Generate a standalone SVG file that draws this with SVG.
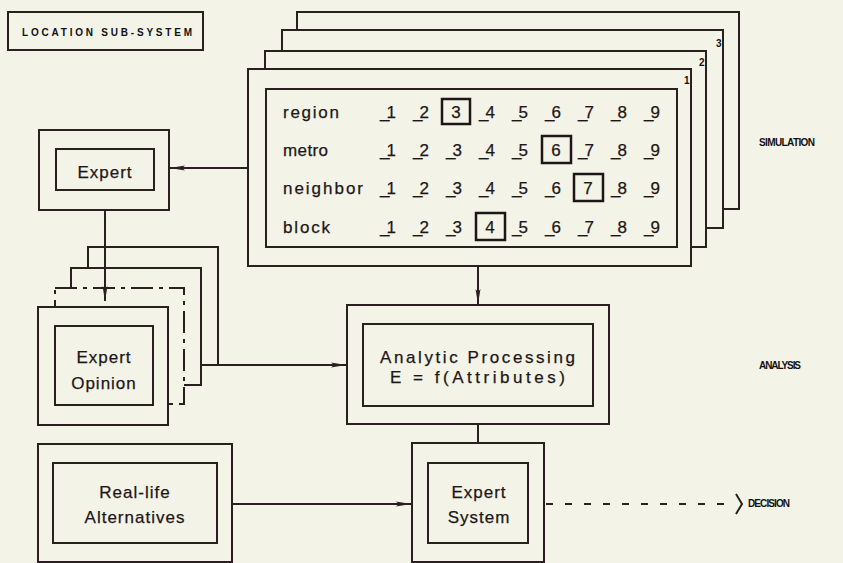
<svg xmlns="http://www.w3.org/2000/svg" width="843" height="563" viewBox="0 0 843 563">
  <style>
    .box { fill: #f3f3e8; stroke: #2a2020; stroke-width: 2; }
    .line { fill: none; stroke: #2a2020; stroke-width: 2; }
    .t { font-family: "Liberation Sans", Arial, sans-serif; fill: #1e1616; stroke: #1e1616; stroke-width: 0.25; }
    .lbl { font-size: 17px; }
    .num { font-size: 17px; letter-spacing: -3px; }
    .big { font-size: 17px; text-anchor: middle; letter-spacing: 1px; }
    .tag { font-family: "Liberation Sans", Arial, sans-serif; font-weight: bold; font-size: 10px; fill: #111; }
    .pick { fill: none; stroke: #1e1616; stroke-width: 2.5; }
  </style>
  <defs>
    <marker id="arrow" markerUnits="userSpaceOnUse" markerWidth="16" markerHeight="8" refX="15" refY="4" orient="auto">
      <path d="M0,1.5 L15,4 L0,6.5 L3,4 Z" fill="#2a2020"/>
    </marker>
  </defs>

  <rect width="843" height="563" fill="#f3f3e8"/>

  <!-- title box -->
  <g id="title">
    <rect class="box" x="8" y="12" width="195" height="38" stroke-width="1.8"/>
    <text class="tag" x="22" y="36" font-size="12" textLength="170">LOCATION SUB-SYSTEM</text>
  </g>

  <!-- stage labels -->
  <g id="stage-labels">
    <text class="tag" x="759" y="146" textLength="56">SIMULATION</text>
    <text class="tag" x="759" y="369" textLength="42">ANALYSIS</text>
    <text class="tag" x="748" y="507" textLength="42">DECISION</text>
  </g>

  <!-- simulation sheets (back to front) -->
  <g id="simulation">
    <rect class="box" x="297" y="12" width="442" height="197"/>
    <rect class="box" x="282" y="30" width="441" height="198"/>
    <rect class="box" x="265" y="51" width="441" height="196"/>
    <rect class="box" x="248" y="69" width="443" height="197"/>
    <text class="tag" x="716" y="47" font-size="11">3</text>
    <text class="tag" x="699" y="66" font-size="11">2</text>
    <text class="tag" x="684" y="84" font-size="11">1</text>
    <rect class="box" x="266" y="89" width="411" height="158"/>

    <text class="t lbl" x="283" y="118" textLength="56">region</text>
    <text class="t lbl" x="283" y="156" textLength="45">metro</text>
    <text class="t lbl" x="283" y="194" textLength="80">neighbor</text>
    <text class="t lbl" x="283" y="233" textLength="47">block</text>

    <!-- region row -->
    <g class="t num">
      <text x="380" y="118">_1</text><text x="413" y="118">_2</text>
      <text x="479" y="118">_4</text><text x="512" y="118">_5</text><text x="545" y="118">_6</text>
      <text x="578" y="118">_7</text><text x="611" y="118">_8</text><text x="644" y="118">_9</text>
    </g>
    <rect class="pick" x="442" y="99" width="28" height="25" stroke-width="3"/>
    <text class="t lbl" x="456" y="118" text-anchor="middle">3</text>

    <!-- metro row -->
    <g class="t num">
      <text x="380" y="156">_1</text><text x="413" y="156">_2</text><text x="446" y="156">_3</text>
      <text x="479" y="156">_4</text><text x="512" y="156">_5</text>
      <text x="578" y="156">_7</text><text x="611" y="156">_8</text><text x="644" y="156">_9</text>
    </g>
    <rect class="pick" x="542" y="136" width="29" height="27"/>
    <text class="t lbl" x="556" y="156" text-anchor="middle">6</text>

    <!-- neighbor row -->
    <g class="t num">
      <text x="380" y="194">_1</text><text x="413" y="194">_2</text><text x="446" y="194">_3</text>
      <text x="479" y="194">_4</text><text x="512" y="194">_5</text><text x="545" y="194">_6</text>
      <text x="611" y="194">_8</text><text x="644" y="194">_9</text>
    </g>
    <rect class="pick" x="574" y="174" width="29" height="27"/>
    <text class="t lbl" x="588" y="194" text-anchor="middle">7</text>

    <!-- block row -->
    <g class="t num">
      <text x="380" y="233">_1</text><text x="413" y="233">_2</text><text x="446" y="233">_3</text>
      <text x="512" y="233">_5</text><text x="545" y="233">_6</text>
      <text x="578" y="233">_7</text><text x="611" y="233">_8</text><text x="644" y="233">_9</text>
    </g>
    <rect class="pick" x="476" y="213" width="29" height="27"/>
    <text class="t lbl" x="490" y="233" text-anchor="middle">4</text>
  </g>

  <!-- expert -->
  <g id="expert">
    <rect class="box" x="39" y="130" width="130" height="80"/>
    <rect class="box" x="56" y="149" width="98" height="41"/>
    <text class="t big" x="105" y="178">Expert</text>
  </g>

  <!-- expert opinion stack -->
  <g id="expert-opinion">
    <rect class="box" x="88" y="247" width="130" height="118"/>
    <rect class="box" x="71" y="268" width="130" height="117"/>
    <rect class="box" x="55" y="288" width="129" height="116" stroke-dasharray="22 6 4 6"/>
    <rect class="box" x="38" y="307" width="130" height="118"/>
    <rect class="box" x="55" y="326" width="98" height="79"/>
    <text class="t big" x="104" y="363">Expert</text>
    <text class="t big" x="104" y="389">Opinion</text>
  </g>

  <!-- analytic processing -->
  <g id="analytic">
    <rect class="box" x="347" y="305" width="262" height="119"/>
    <rect class="box" x="363" y="324" width="230" height="82"/>
    <text class="t big" x="478" y="363" font-size="18" textLength="196">Analytic Processing</text>
    <text class="t big" x="478" y="383" font-size="18" textLength="176">E = f(Attributes)</text>
  </g>

  <!-- real-life alternatives -->
  <g id="alternatives">
    <rect class="box" x="38" y="444" width="194" height="118"/>
    <rect class="box" x="53" y="463" width="164" height="80"/>
    <text class="t big" x="135" y="498">Real-life</text>
    <text class="t big" x="135" y="523">Alternatives</text>
  </g>

  <!-- expert system -->
  <g id="expert-system">
    <rect class="box" x="412" y="443" width="132" height="119"/>
    <rect class="box" x="428" y="463" width="100" height="80"/>
    <text class="t big" x="479" y="498">Expert</text>
    <text class="t big" x="479" y="523">System</text>
  </g>

  <!-- connectors -->
  <g id="connectors">
    <line class="line" x1="248" y1="168" x2="170" y2="168" marker-end="url(#arrow)"/>
    <line class="line" x1="105" y1="210" x2="105" y2="301" stroke-width="1.6" marker-end="url(#arrow)"/>
    <line class="line" x1="478" y1="266" x2="478" y2="304" marker-end="url(#arrow)"/>
    <line class="line" x1="201" y1="365" x2="346" y2="365" marker-end="url(#arrow)"/>
    <line class="line" x1="478" y1="424" x2="478" y2="443" stroke-width="3"/>
    <line class="line" x1="232" y1="504" x2="411" y2="504" marker-end="url(#arrow)"/>
    <line class="line" x1="546" y1="504" x2="734" y2="504" stroke-dasharray="7 12"/>
    <polyline class="line" points="736,494 742,504 736,514" stroke-width="1.6"/>
  </g>
</svg>
